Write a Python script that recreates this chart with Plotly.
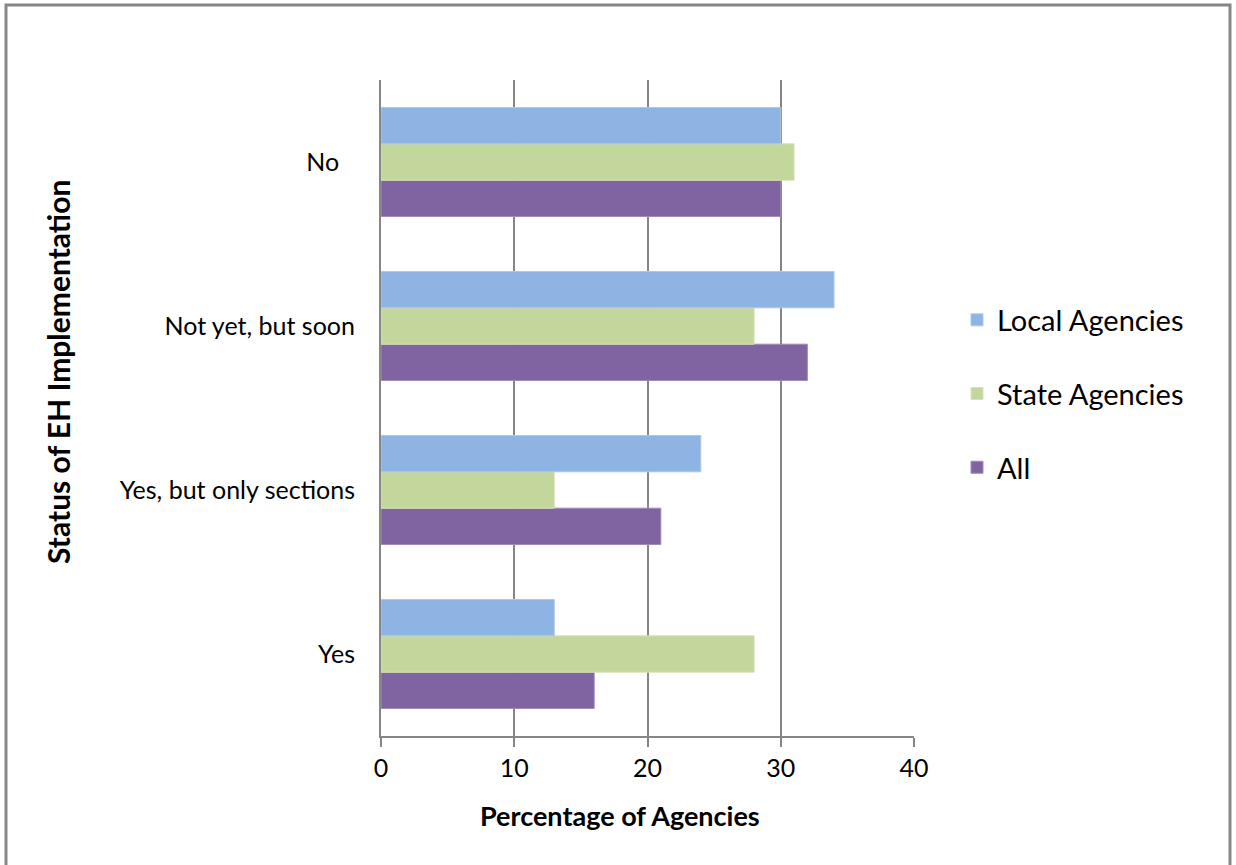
import plotly.graph_objects as go

# Survey responses, percentage of agencies per implementation status
categories = ["Yes", "Yes, but only sections", "Not yet, but soon", "No\u00a0\u00a0\u2009"]
local_agencies = [13, 24, 34, 30]
state_agencies = [28, 13, 28, 31]
all_agencies = [16, 21, 32, 30]

x_ticks = [0, 10, 20, 30, 40]

FONT = "Lato"
GRID = "#868686"

fig = go.Figure()

# Plotly stacks grouped horizontal bars bottom-up, so add "All" first;
# legendrank puts the legend back in top-down order
series = [
    ("All", all_agencies, "#8064A2", "#A18BBD", 3),
    ("State Agencies", state_agencies, "#C3D69B", "#D5E3B8", 2),
    ("Local Agencies", local_agencies, "#8EB4E3", "#ABC8EB", 1),
]
for name, vals, color, edge, rank in series:
    fig.add_trace(go.Bar(
        y=categories, x=vals, name=name, orientation="h",
        legendgroup=name, legendrank=rank,
        marker=dict(color=color, line=dict(color=edge, width=1)),
    ))

fig.update_layout(
    width=1236, height=865,
    margin=dict(l=381, r=322, t=80, b=129),
    paper_bgcolor="white", plot_bgcolor="white",
    barmode="group", bargap=0.335, bargroupgap=0,
    font=dict(family=FONT, color="black", size=25),
    showlegend=True,
    legend=dict(
        x=(957 - 381) / 533, xanchor="left",
        y=(736 - 394) / 656, yanchor="middle",
        traceorder="grouped", tracegroupgap=33,
        font=dict(size=29, family=FONT),
        itemwidth=30,
    ),
    xaxis=dict(
        range=[0, 40], tickvals=x_ticks, ticktext=[str(v) for v in x_ticks],
        showgrid=True, gridcolor=GRID, gridwidth=2,
        showline=True, linecolor=GRID, linewidth=2,
        ticks="outside", ticklen=9, tickwidth=2, tickcolor=GRID,
        tickfont=dict(size=25, family=FONT),
        zeroline=False,
    ),
    yaxis=dict(
        categoryorder="array", categoryarray=categories,
        showline=True, linecolor=GRID, linewidth=2,
        showgrid=False, ticks="", ticklabelstandoff=19,
        tickfont=dict(size=25, family=FONT),
    ),
    annotations=[
        dict(text="<b>Percentage of Agencies</b>", xref="paper", yref="paper",
             x=(620 - 381) / 533, y=(736 - 815) / 656,
             xanchor="center", yanchor="middle", showarrow=False,
             font=dict(size=27, family=FONT)),
        dict(text="<b>Status of EH Implementation</b>", xref="paper", yref="paper",
             x=(58 - 381) / 533, y=(736 - 372) / 656, textangle=-90,
             xanchor="center", yanchor="middle", showarrow=False,
             font=dict(size=30, family=FONT)),
    ],
    shapes=[
        dict(type="rect", xref="paper", yref="paper",
             x0=(6 - 381) / 533, x1=(1230 - 381) / 533,
             y0=(736 - 880) / 656, y1=(736 - 5) / 656,
             line=dict(color="#868686", width=3), layer="below"),
    ],
)

fig.write_html("out.html")
